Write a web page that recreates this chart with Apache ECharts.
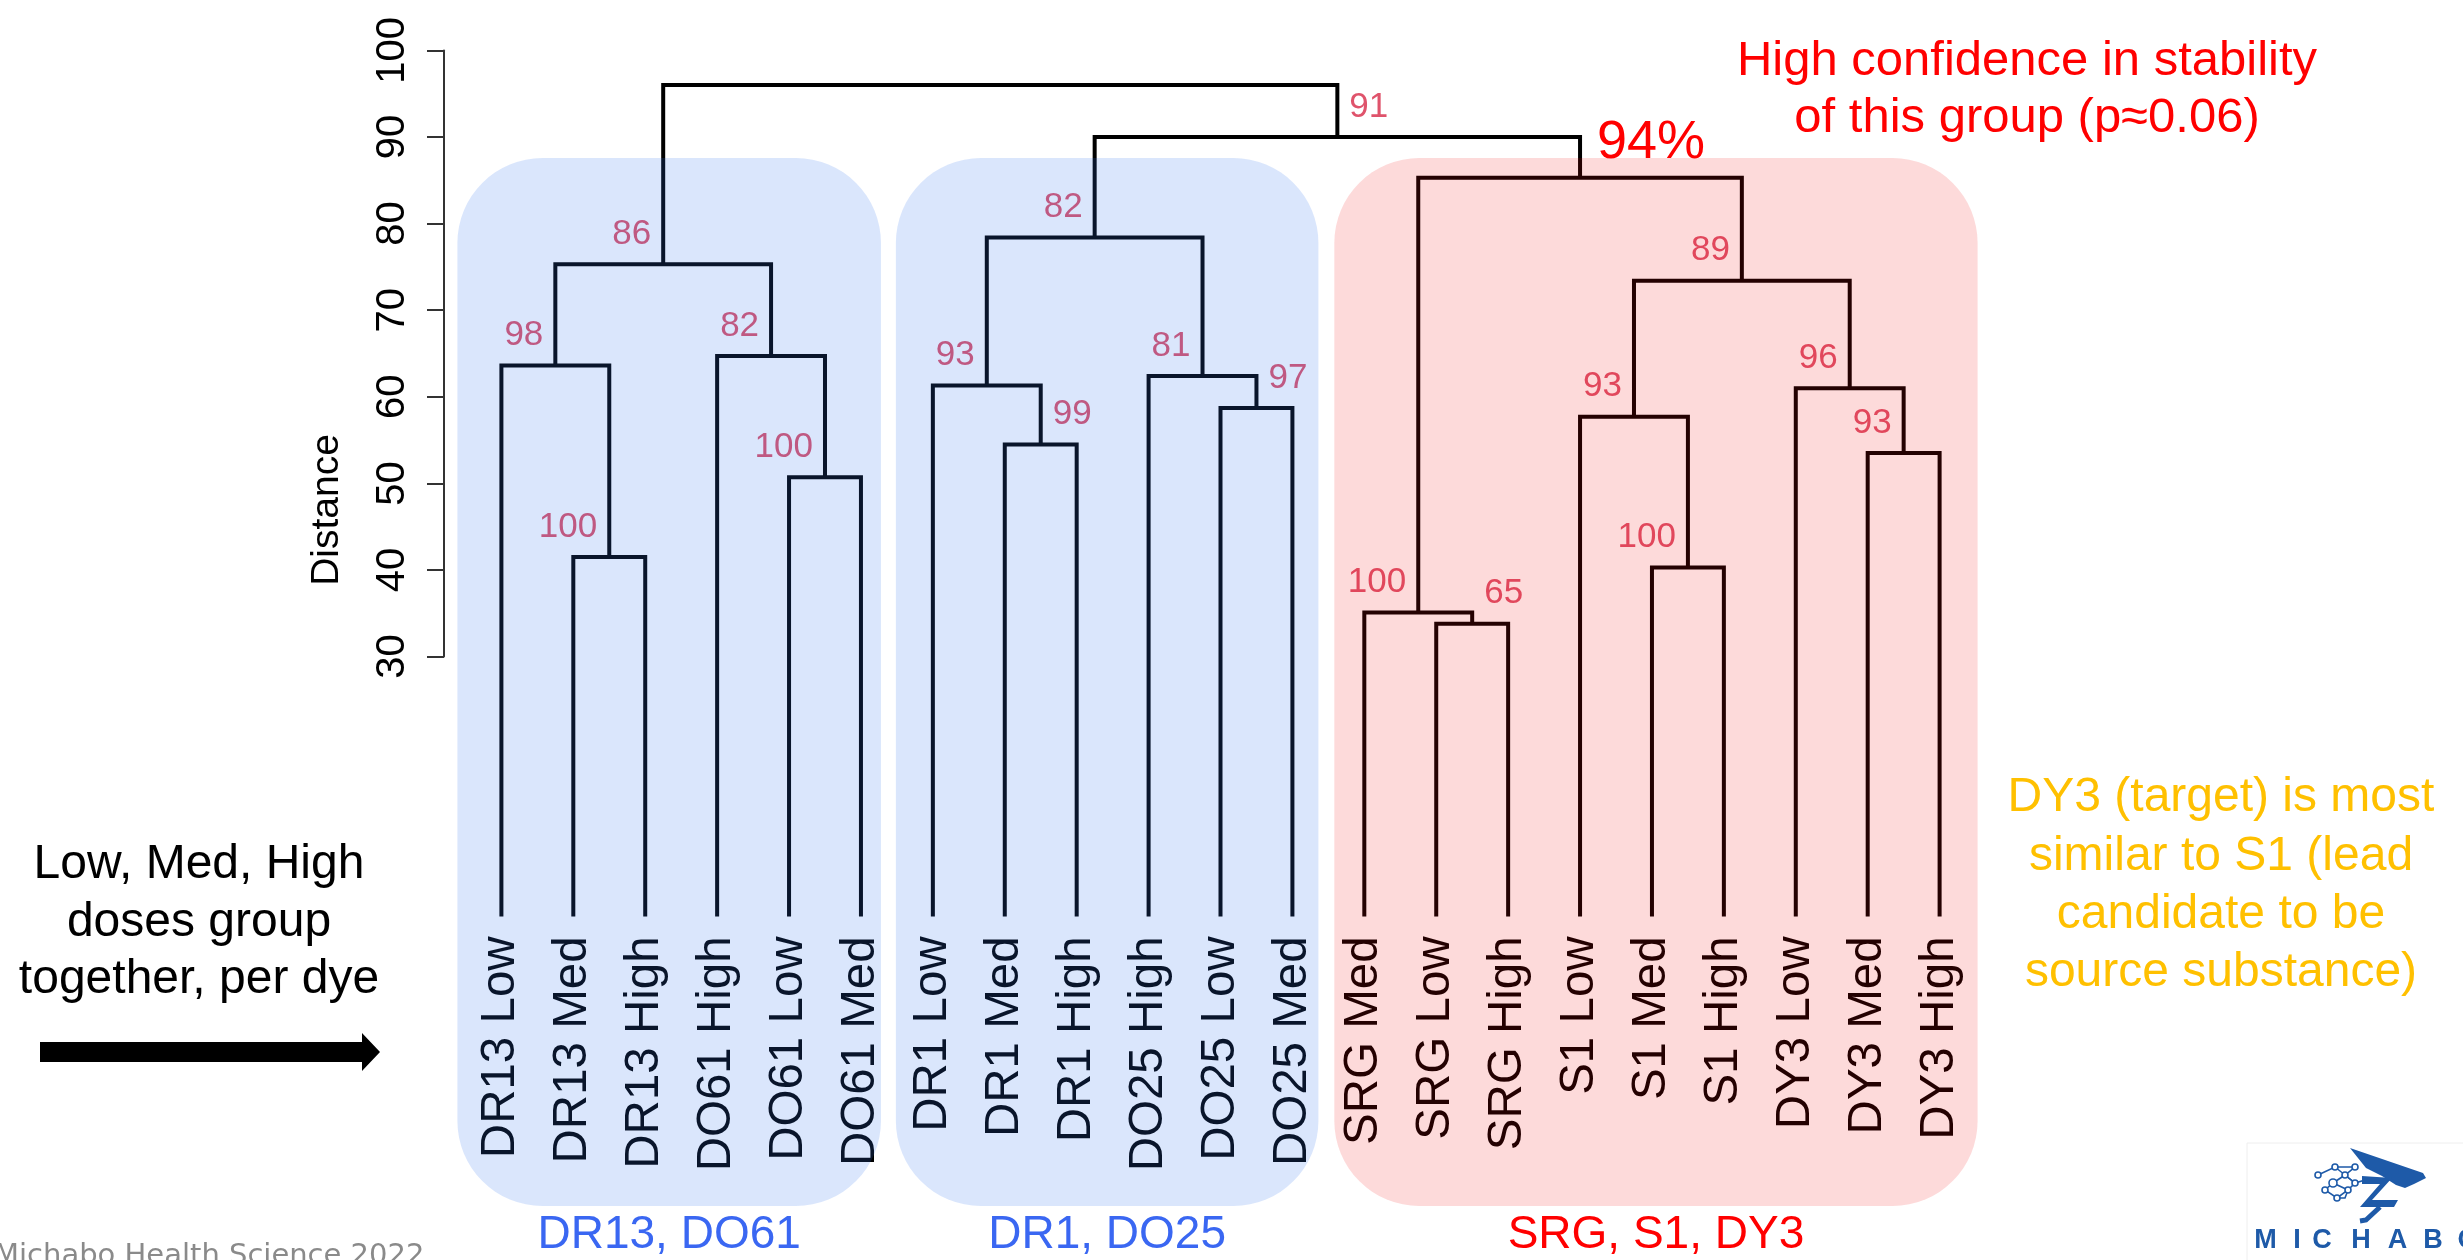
<!DOCTYPE html>
<html>
<head>
<meta charset="utf-8">
<script src="https://cdn.jsdelivr.net/npm/echarts@6/dist/echarts.min.js"></script>
<style>
html,body{margin:0;padding:0;background:#ffffff;}
#chart{width:2463px;height:1260px;}
</style>
</head>
<body>
<div id="chart"></div>
<script>
// ---------------- DATA ----------------
const leafNames = ['DR13 Low','DR13 Med','DR13 High','DO61 High','DO61 Low','DO61 Med',
  'DR1 Low','DR1 Med','DR1 High','DO25 High','DO25 Low','DO25 Med',
  'SRG Med','SRG Low','SRG High','S1 Low','S1 Med','S1 High','DY3 Low','DY3 Med','DY3 High'];

// hclust-style merges: negative = leaf (1-based, -1 is first leaf), positive = earlier merge (1-based)
const mergeLeft   = [-14, -13, -17, -2, -5, -20, -8, -16, -11, -19, -7, -10, -1, -4,  8, 13, 11,  2, 17, 16];
const mergeRight  = [-15,   1, -18, -3, -6, -21, -9,   3, -12,   6,  7,   9,  4,  5, 10, 14, 12, 15, 18, 19];
const mergeHeight = [33.8, 35.1, 40.3, 41.5, 50.7, 53.5, 54.5, 57.7, 58.7, 61.0, 61.3, 62.4, 63.6, 64.7, 73.4, 75.3, 78.4, 85.3, 90.0, 96.0];
const mergeAU     = [65, 100, 100, 100, 100, 93, 99, 93, 97, 96, 93, 81, 98, 82, 89, 86, 82, 94, 91, null];
const mergeAUSide = ['R','L','L','L','L','L','R','L','R','L','L','L','L','L','L','L','L','R','R','L'];
const highlightMerge = 17; // the SRG/S1/DY3 node, shown as "94%"

const yTicks = [30, 40, 50, 60, 70, 80, 90, 100];

const groupNames     = ['DR13, DO61', 'DR1, DO25', 'SRG, S1, DY3'];
const groupFirstLeaf = [0, 6, 12];
const groupLastLeaf  = [5, 11, 20];

// ---------------- STYLE ----------------
const FONT = '"Liberation Sans", Arial, Helvetica, sans-serif';
const auColor = '#DF536B';
const groupFill  = ['rgba(49,116,238,0.18)', 'rgba(49,116,238,0.18)', 'rgba(242,8,8,0.15)'];
const groupText  = ['#3a67f2', '#3a67f2', '#ff0000'];
const groupPadL  = [44, 37, 30];
const groupPadR  = [20, 26, 38];
const BOX_TOP = 158, BOX_BOTTOM = 1206, BOX_R = 85;

// ---------------- TREE LAYOUT (from data) ----------------
const mergeX = [];
function refX(ref){ return ref < 0 ? (-ref - 1) : mergeX[ref - 1]; }
function refH(ref){ return ref < 0 ? 0 : mergeHeight[ref - 1]; }
for (let i = 0; i < mergeHeight.length; i++) {
  mergeX.push((refX(mergeLeft[i]) + refX(mergeRight[i])) / 2);
}
const treeData = mergeHeight.map((h, i) => [mergeX[i], h]);

function renderTree(params, api) {
  const i = params.dataIndex;
  const l = mergeLeft[i], r = mergeRight[i], h = mergeHeight[i];
  const pts = [
    api.coord([refX(l), refH(l)]),
    api.coord([refX(l), h]),
    api.coord([refX(r), h]),
    api.coord([refX(r), refH(r)])
  ];
  const children = [{
    type: 'polyline',
    shape: { points: pts },
    style: { stroke: '#000000', lineWidth: 4, fill: null, lineJoin: 'miter', lineCap: 'butt' }
  }];
  const au = mergeAU[i];
  if (au != null && i !== highlightMerge) {
    const node = api.coord([mergeX[i], h]);
    const right = mergeAUSide[i] === 'R';
    children.push({
      type: 'text',
      x: node[0] + (right ? 12 : -12),
      y: node[1] - 30,
      style: { text: String(au), fill: auColor, fontSize: 35, fontFamily: FONT,
               align: right ? 'left' : 'right', verticalAlign: 'middle' }
    });
  }
  return { type: 'group', children };
}

function renderHighlight(params, api) {
  const i = highlightMerge;
  const node = api.coord([mergeX[i], mergeHeight[i]]);
  return {
    type: 'text',
    x: node[0] + 17,
    y: node[1] - 35,
    style: { text: mergeAU[i] + '%', fill: '#ff0000', fontSize: 54, fontFamily: FONT,
             align: 'left', verticalAlign: 'middle' }
  };
}

function renderBox(params, api) {
  const g = params.dataIndex;
  const x0 = api.coord([groupFirstLeaf[g], 0])[0] - groupPadL[g];
  const x1 = api.coord([groupLastLeaf[g], 0])[0] + groupPadR[g];
  return {
    type: 'group',
    children: [
      { type: 'rect', shape: { x: x0, y: BOX_TOP, width: x1 - x0, height: BOX_BOTTOM - BOX_TOP, r: BOX_R },
        style: { fill: groupFill[g] } },
      { type: 'text', x: (x0 + x1) / 2, y: 1235,
        style: { text: groupNames[g], fill: groupText[g], fontSize: 46, fontFamily: FONT,
                 align: 'center', verticalAlign: 'middle' } }
    ]
  };
}

const boxData = groupNames.map((n, g) => [(groupFirstLeaf[g] + groupLastLeaf[g]) / 2, 50]);
const highlightData = [[mergeX[highlightMerge], mergeHeight[highlightMerge]]];

// ---------------- CHART ----------------
const chart = echarts.init(document.getElementById('chart'), null, { renderer: 'canvas' });

const unit = 8.66; // px per distance unit
const grid0Top = 50.4;

const option = {
  backgroundColor: '#ffffff',
  animation: false,
  grid: [
    { left: 444, top: grid0Top, width: 1, height: unit * (yTicks[yTicks.length-1] - yTicks[0]) },
    { left: 501.4, top: grid0Top, width: 1438.2, height: unit * 100 }
  ],
  xAxis: [
    { gridIndex: 0, type: 'value', show: false, min: 0, max: 1 },
    { gridIndex: 1, type: 'value', min: 0, max: leafNames.length - 1, interval: 1,
      axisLine: { show: false }, axisTick: { show: false }, splitLine: { show: false },
      axisLabel: { show: true, rotate: 90, margin: 20, fontSize: 47.5, fontFamily: FONT, color: '#000000',
        showMinLabel: true, showMaxLabel: true,
        formatter: v => leafNames[Math.round(v)] || '' } }
  ],
  yAxis: [
    { gridIndex: 0, type: 'value', min: yTicks[0], max: yTicks[yTicks.length-1], interval: 10,
      axisLine: { show: true, lineStyle: { color: '#333333', width: 2 } },
      axisTick: { show: true, length: 17, lineStyle: { color: '#333333', width: 2 } },
      splitLine: { show: false },
      axisLabel: { show: true, rotate: 90, margin: 31, fontSize: 40, fontFamily: FONT, color: '#000000' } },
    { gridIndex: 1, type: 'value', min: 0, max: 100, show: false }
  ],
  series: [
    { type: 'custom', name: 'tree', xAxisIndex: 1, yAxisIndex: 1, z: 2, clip: false,
      renderItem: renderTree, data: treeData, silent: true },
    { type: 'custom', name: 'groups', xAxisIndex: 1, yAxisIndex: 1, z: 3, clip: false,
      renderItem: renderBox, data: boxData, silent: true },
    { type: 'custom', name: 'highlight', xAxisIndex: 1, yAxisIndex: 1, z: 4, clip: false,
      renderItem: renderHighlight, data: highlightData, silent: true }
  ],
  graphic: [
    { type: 'text', x: 327, y: 510, rotation: Math.PI / 2,
      style: { text: 'Distance', fill: '#000000', fontSize: 39, fontFamily: FONT, align: 'center', verticalAlign: 'middle' } },
    { type: 'text', x: 2027, y: 89.7,
      style: { text: 'High confidence in stability\nof this group (p\u22480.06)', fill: '#ff0000', fontSize: 49, lineHeight: 57,
               fontFamily: FONT, align: 'center', verticalAlign: 'middle' } },
    { type: 'text', x: 2221, y: 885.7,
      style: { text: 'DY3 (target) is most\nsimilar to S1 (lead\ncandidate to be\nsource substance)', fill: '#ffc000', fontSize: 48, lineHeight: 58.3,
               fontFamily: FONT, align: 'center', verticalAlign: 'middle' } },
    { type: 'text', x: 199, y: 922.7,
      style: { text: 'Low, Med, High\ndoses group\ntogether, per dye', fill: '#000000', fontSize: 48, lineHeight: 57.5,
               fontFamily: FONT, align: 'center', verticalAlign: 'middle' } },
    { type: 'polygon', shape: { points: [[40,1042],[362,1042],[362,1033],[380,1052],[362,1071],[362,1062],[40,1062]] },
      style: { fill: '#000000' } },
    { type: 'text', x: -6, y: 1256,
      style: { text: 'Michabo Health Science 2022', fill: '#8a8a8a', fontSize: 29, fontFamily: '"DejaVu Sans", sans-serif',
               align: 'left', verticalAlign: 'middle' } },
    // logo
    { type: 'group', children: [
      { type: 'polyline', shape: { points: [[2247,1260],[2247,1143],[2463,1143]] }, style: { stroke: '#eeeeee', lineWidth: 1, fill: null } },
      { type: 'polyline', shape: { points: [[2318,1175],[2335,1167],[2355,1167],[2345,1175],[2333,1183],[2325,1190],[2337,1198],[2348,1190],[2355,1183],[2345,1175]] },
        style: { stroke: '#1e5aa8', lineWidth: 1.6, fill: null } },
      { type: 'polyline', shape: { points: [[2333,1183],[2348,1190],[2345,1198],[2337,1198]] }, style: { stroke: '#1e5aa8', lineWidth: 1.6, fill: null } },
      { type: 'polyline', shape: { points: [[2335,1167],[2345,1175],[2355,1183],[2365,1180]] }, style: { stroke: '#1e5aa8', lineWidth: 1.6, fill: null } },
      { type: 'circle', shape: { cx: 2318, cy: 1175, r: 3 }, style: { fill: '#ffffff', stroke: '#1e5aa8', lineWidth: 1.6 } },
      { type: 'circle', shape: { cx: 2335, cy: 1167, r: 3 }, style: { fill: '#ffffff', stroke: '#1e5aa8', lineWidth: 1.6 } },
      { type: 'circle', shape: { cx: 2355, cy: 1167, r: 3 }, style: { fill: '#ffffff', stroke: '#1e5aa8', lineWidth: 1.6 } },
      { type: 'circle', shape: { cx: 2345, cy: 1175, r: 3 }, style: { fill: '#ffffff', stroke: '#1e5aa8', lineWidth: 1.6 } },
      { type: 'circle', shape: { cx: 2333, cy: 1183, r: 4 }, style: { fill: '#ffffff', stroke: '#1e5aa8', lineWidth: 1.6 } },
      { type: 'circle', shape: { cx: 2325, cy: 1190, r: 3 }, style: { fill: '#ffffff', stroke: '#1e5aa8', lineWidth: 1.6 } },
      { type: 'circle', shape: { cx: 2337, cy: 1198, r: 3 }, style: { fill: '#ffffff', stroke: '#1e5aa8', lineWidth: 1.6 } },
      { type: 'circle', shape: { cx: 2348, cy: 1190, r: 3 }, style: { fill: '#ffffff', stroke: '#1e5aa8', lineWidth: 1.6 } },
      { type: 'circle', shape: { cx: 2355, cy: 1183, r: 3 }, style: { fill: '#ffffff', stroke: '#1e5aa8', lineWidth: 1.6 } },
      { type: 'polygon', shape: { points: [[2350,1148],[2423,1173],[2426,1178],[2414,1184],[2405,1188],[2396,1185],[2382,1176],[2366,1168]] },
        style: { fill: '#1e5aa8' } },
      { type: 'polygon', shape: { points: [[2362,1176],[2392,1178],[2372,1200],[2398,1200],[2394,1207],[2360,1207],[2380,1184],[2362,1184]] },
        style: { fill: '#1e5aa8' } },
      { type: 'polyline', shape: { points: [[2380,1207],[2366,1220],[2360,1221]] }, style: { stroke: '#1e5aa8', lineWidth: 5, fill: null } },
      { type: 'text', x: 2265.5, y: 1241, style: { text: 'M', fill: '#1e5aa8', fontSize: 27, fontWeight: 'bold', fontFamily: FONT, align: 'center', verticalAlign: 'middle' } },
      { type: 'text', x: 2297, y: 1241, style: { text: 'I', fill: '#1e5aa8', fontSize: 27, fontWeight: 'bold', fontFamily: FONT, align: 'center', verticalAlign: 'middle' } },
      { type: 'text', x: 2322, y: 1241, style: { text: 'C', fill: '#1e5aa8', fontSize: 27, fontWeight: 'bold', fontFamily: FONT, align: 'center', verticalAlign: 'middle' } },
      { type: 'text', x: 2361, y: 1241, style: { text: 'H', fill: '#1e5aa8', fontSize: 27, fontWeight: 'bold', fontFamily: FONT, align: 'center', verticalAlign: 'middle' } },
      { type: 'text', x: 2397.5, y: 1241, style: { text: 'A', fill: '#1e5aa8', fontSize: 27, fontWeight: 'bold', fontFamily: FONT, align: 'center', verticalAlign: 'middle' } },
      { type: 'text', x: 2433, y: 1241, style: { text: 'B', fill: '#1e5aa8', fontSize: 27, fontWeight: 'bold', fontFamily: FONT, align: 'center', verticalAlign: 'middle' } },
      { type: 'text', x: 2468, y: 1241, style: { text: 'O', fill: '#1e5aa8', fontSize: 27, fontWeight: 'bold', fontFamily: FONT, align: 'center', verticalAlign: 'middle' } }
    ] }
  ]
};
chart.setOption(option);
</script>
</body>
</html>
